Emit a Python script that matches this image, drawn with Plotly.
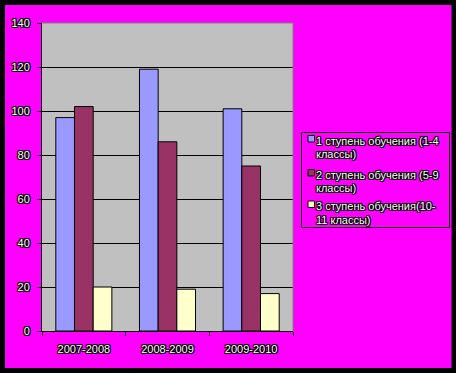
import plotly.graph_objects as go

categories = ["2007-2008", "2008-2009", "2009-2010"]
series_names = [
    "1 ступень обучения (1-4<br>классы)",
    "2 ступень обучения (5-9<br>классы)",
    "3 ступень обучения(10-<br>11 классы)",
]
stage1 = [97, 119, 101]
stage2 = [102, 86, 75]
stage3 = [20, 19, 17]
series_values = [stage1, stage2, stage3]
colors = ["#9999FF", "#993366", "#FFFFCC"]
y_ticks = [0, 20, 40, 60, 80, 100, 120, 140]

W, H = 456, 373
L, R, T, B = 42, 163, 23, 42
PW, PH = W - L - R, H - T - B

def px(x):
    return (x - L) / PW

def py(y):
    return (H - B - y) / PH

SHADOW = "1px 1px 0 #000, -1px -1px 0 #000, 1px -1px 0 #000, -1px 1px 0 #000, 1px 0 0 #000, -1px 0 0 #000, 0 1px 0 #000, 0 -1px 0 #000"
tfont = dict(family="Liberation Sans, Arial, sans-serif", size=11, color="white", shadow=SHADOW)

fig = go.Figure()
for name, vals, col in zip(series_names, series_values, colors):
    fig.add_trace(go.Bar(
        x=categories, y=vals, name=name, marker=dict(color=col, line=dict(color="black", width=1)),
        showlegend=False, hoverinfo="skip",
    ))

shapes = []
shapes.append(dict(type="line", xref="paper", yref="paper", x0=0, x1=1, y0=1, y1=1,
                   line=dict(color="#808080", width=1), layer="above"))
shapes.append(dict(type="line", xref="paper", yref="paper", x0=1, x1=1, y0=0, y1=1,
                   line=dict(color="#808080", width=1), layer="above"))
shapes.append(dict(type="rect", xref="paper", yref="paper", x0=px(301.5), x1=px(449.5),
                   y0=py(227.5), y1=py(132.5), line=dict(color="black", width=1), fillcolor="rgba(0,0,0,0)"))
annotations = []
item_tops = [135.5, 169.5, 201]
for name, col, top in zip(series_names, colors, item_tops):
    shapes.append(dict(type="rect", xref="paper", yref="paper", x0=px(308), x1=px(314.5),
                       y0=py(top + 6.5), y1=py(top), line=dict(color="black", width=1), fillcolor=col))
    for i, line in enumerate(name.split("<br>")):
        annotations.append(dict(text=line, xref="paper", yref="paper", x=px(314), y=py(top + 5 + i * 13.5),
                                xanchor="left", yanchor="middle", showarrow=False, font=tfont))
shapes.append(dict(type="rect", xref="paper", yref="paper", x0=px(2.5), x1=px(454), y0=py(370.5), y1=py(2.5),
                   line=dict(color="black", width=5), fillcolor="rgba(0,0,0,0)", layer="above"))

fig.update_layout(
    width=W, height=H,
    margin=dict(l=L, r=R, t=T, b=B, pad=0),
    paper_bgcolor="#FF00FF", plot_bgcolor="#C0C0C0",
    barmode="group", bargap=0.33, bargroupgap=0,
    font=tfont,
    showlegend=False, hovermode=False,
    shapes=shapes, annotations=annotations,
    xaxis=dict(showgrid=False, showline=True, linecolor="black", linewidth=1,
               ticks="outside", tickson="boundaries", ticklen=4, tickcolor="black",
               tickfont=tfont, ticklabelstandoff=8),
    yaxis=dict(range=[0, 140], tickvals=y_ticks, showgrid=True, gridcolor="black", gridwidth=1,
               zeroline=False, showline=True, linecolor="black", linewidth=1,
               ticks="outside", ticklen=4, tickcolor="black", tickfont=tfont, ticklabelstandoff=5),
)

fig.write_html("out.html", config={"displayModeBar": False},
               post_script="document.body.style.margin='0';document.body.style.padding='0';")
